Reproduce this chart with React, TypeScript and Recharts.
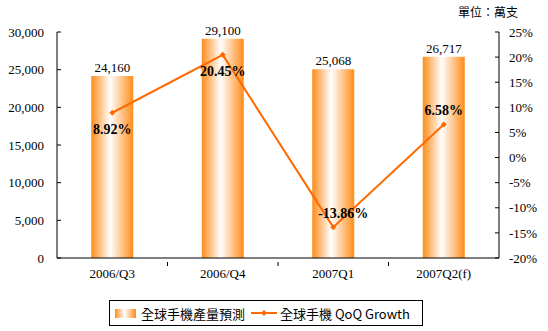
import { Bar, ComposedChart, LabelList, Line, XAxis, YAxis } from "recharts"

const quarters = ["2006/Q3", "2006/Q4", "2007Q1", "2007Q2(f)"]
const shipments = [24160, 29100, 25068, 26717]
const qoqGrowth = [8.92, 20.45, -13.86, 6.58]
const leftTicks = [0, 5000, 10000, 15000, 20000, 25000, 30000]
const rightTicks = [-20, -15, -10, -5, 0, 5, 10, 15, 20, 25]

const data = quarters.map((q, i) => ({ name: q, shipments: shipments[i], growth: qoqGrowth[i] }))

const serif = "'Liberation Serif', 'Noto Sans CJK TC', serif"
const cjk = "'Noto Sans CJK TC', sans-serif"
const orange = "#ff6a00"

const DiamondDot = (props: any) => {
    const { cx, cy } = props
    if (cx == null || cy == null) return null
    return <path d={`M${cx},${cy - 3}L${cx + 3},${cy}L${cx},${cy + 3}L${cx - 3},${cy}Z`} fill={orange} />
}

const GrowthLabel = (props: any) => {
    const { x, y, value, index } = props
    // first two points labelled below, the rest above
    const below = index < 2
    const dx = index === 2 ? 10 : 0
    return (
        <text x={x + dx} y={below ? y + 17 : y - 14} textAnchor="middle" dominantBaseline="central"
            fontFamily={serif} fontSize={14} fontWeight="bold" fill="#000">
            {`${value.toFixed(2)}%`}
        </text>
    )
}

const CategoryTick = (props: any) => {
    const { x, y, payload, index, visibleTicksCount } = props
    const band = 442 / quarters.length
    return (
        <g>
            <text x={x} y={y + 12} textAnchor="middle" fontFamily={serif} fontSize={13} fill="#000">{payload.value}</text>
            {index < (visibleTicksCount ?? quarters.length) - 1 && (
                <line x1={x + band / 2} x2={x + band / 2} y1={y} y2={y - 4} stroke="#000" />
            )}
        </g>
    )
}

export default function App() {
    return (
        <div style={{ position: "absolute", left: 0, top: 0, width: 548, height: 331, background: "#fff" }}>
            <div style={{ position: "absolute", left: 458, top: 3, fontFamily: cjk, fontSize: 12, color: "#000" }}>單位：萬支</div>
            <ComposedChart width={548} height={331} data={data} barCategoryGap="31%"
                margin={{ top: 32, right: 4, bottom: 53, left: 0 }}>
                <defs>
                    <linearGradient id="barGrad" x1="0" y1="0" x2="1" y2="0">
                        <stop offset="0%" stopColor="#ff8c1a" />
                        <stop offset="45%" stopColor="#ffffff" />
                        <stop offset="100%" stopColor="#ff8c1a" />
                    </linearGradient>
                </defs>
                <XAxis dataKey="name" height={20} axisLine={{ stroke: "#000" }} tickLine={false} tick={<CategoryTick />} interval={0} />
                <YAxis yAxisId="left" width={57} domain={[0, 30000]} ticks={leftTicks}
                    tickFormatter={(v) => v.toLocaleString("en-US")}
                    axisLine={{ stroke: "#000" }} tickLine={{ stroke: "#000" }} tickSize={-4} tickMargin={17}
                    tick={{ fill: "#000", fontFamily: serif, fontSize: 13 }} />
                <YAxis yAxisId="right" orientation="right" width={45} domain={[-20, 25]} ticks={rightTicks}
                    tickFormatter={(v) => `${v}%`}
                    axisLine={{ stroke: "#000" }} tickLine={{ stroke: "#000" }} tickSize={-4} tickMargin={14}
                    tick={{ fill: "#000", fontFamily: serif, fontSize: 13, textAnchor: "start" }} />
                <Bar yAxisId="left" dataKey="shipments" fill="url(#barGrad)" isAnimationActive={false}>
                    <LabelList dataKey="shipments" position="top" offset={4}
                        formatter={(v: any) => Number(v).toLocaleString("en-US")}
                        style={{ fill: "#000", fontFamily: serif, fontSize: 13 }} />
                </Bar>
                <Line yAxisId="right" dataKey="growth" stroke={orange} strokeWidth={2} dot={<DiamondDot />}
                    activeDot={false} isAnimationActive={false}>
                    <LabelList dataKey="growth" content={<GrowthLabel />} />
                </Line>
            </ComposedChart>
            <div style={{
                position: "absolute", left: 109, top: 300, width: 314, height: 26, border: "1px solid #000",
                boxSizing: "border-box", display: "flex", alignItems: "center", fontFamily: cjk, fontSize: 13,
                color: "#000", whiteSpace: "nowrap"
            }}>
                <span style={{ display: "inline-block", width: 21, height: 9, marginLeft: 5, marginRight: 5,
                    background: "linear-gradient(to right, #ff8c1a, #fff 45%, #ff8c1a)" }} />
                <span>全球手機產量預測</span>
                <svg width={26} height={10} style={{ marginLeft: 6, marginRight: 3 }}>
                    <line x1={0} x2={26} y1={5} y2={5} stroke={orange} strokeWidth={2} />
                    <path d="M13,2L16,5L13,8L10,5Z" fill={orange} />
                </svg>
                <span>全球手機 QoQ Growth</span>
            </div>
        </div>
    )
}
